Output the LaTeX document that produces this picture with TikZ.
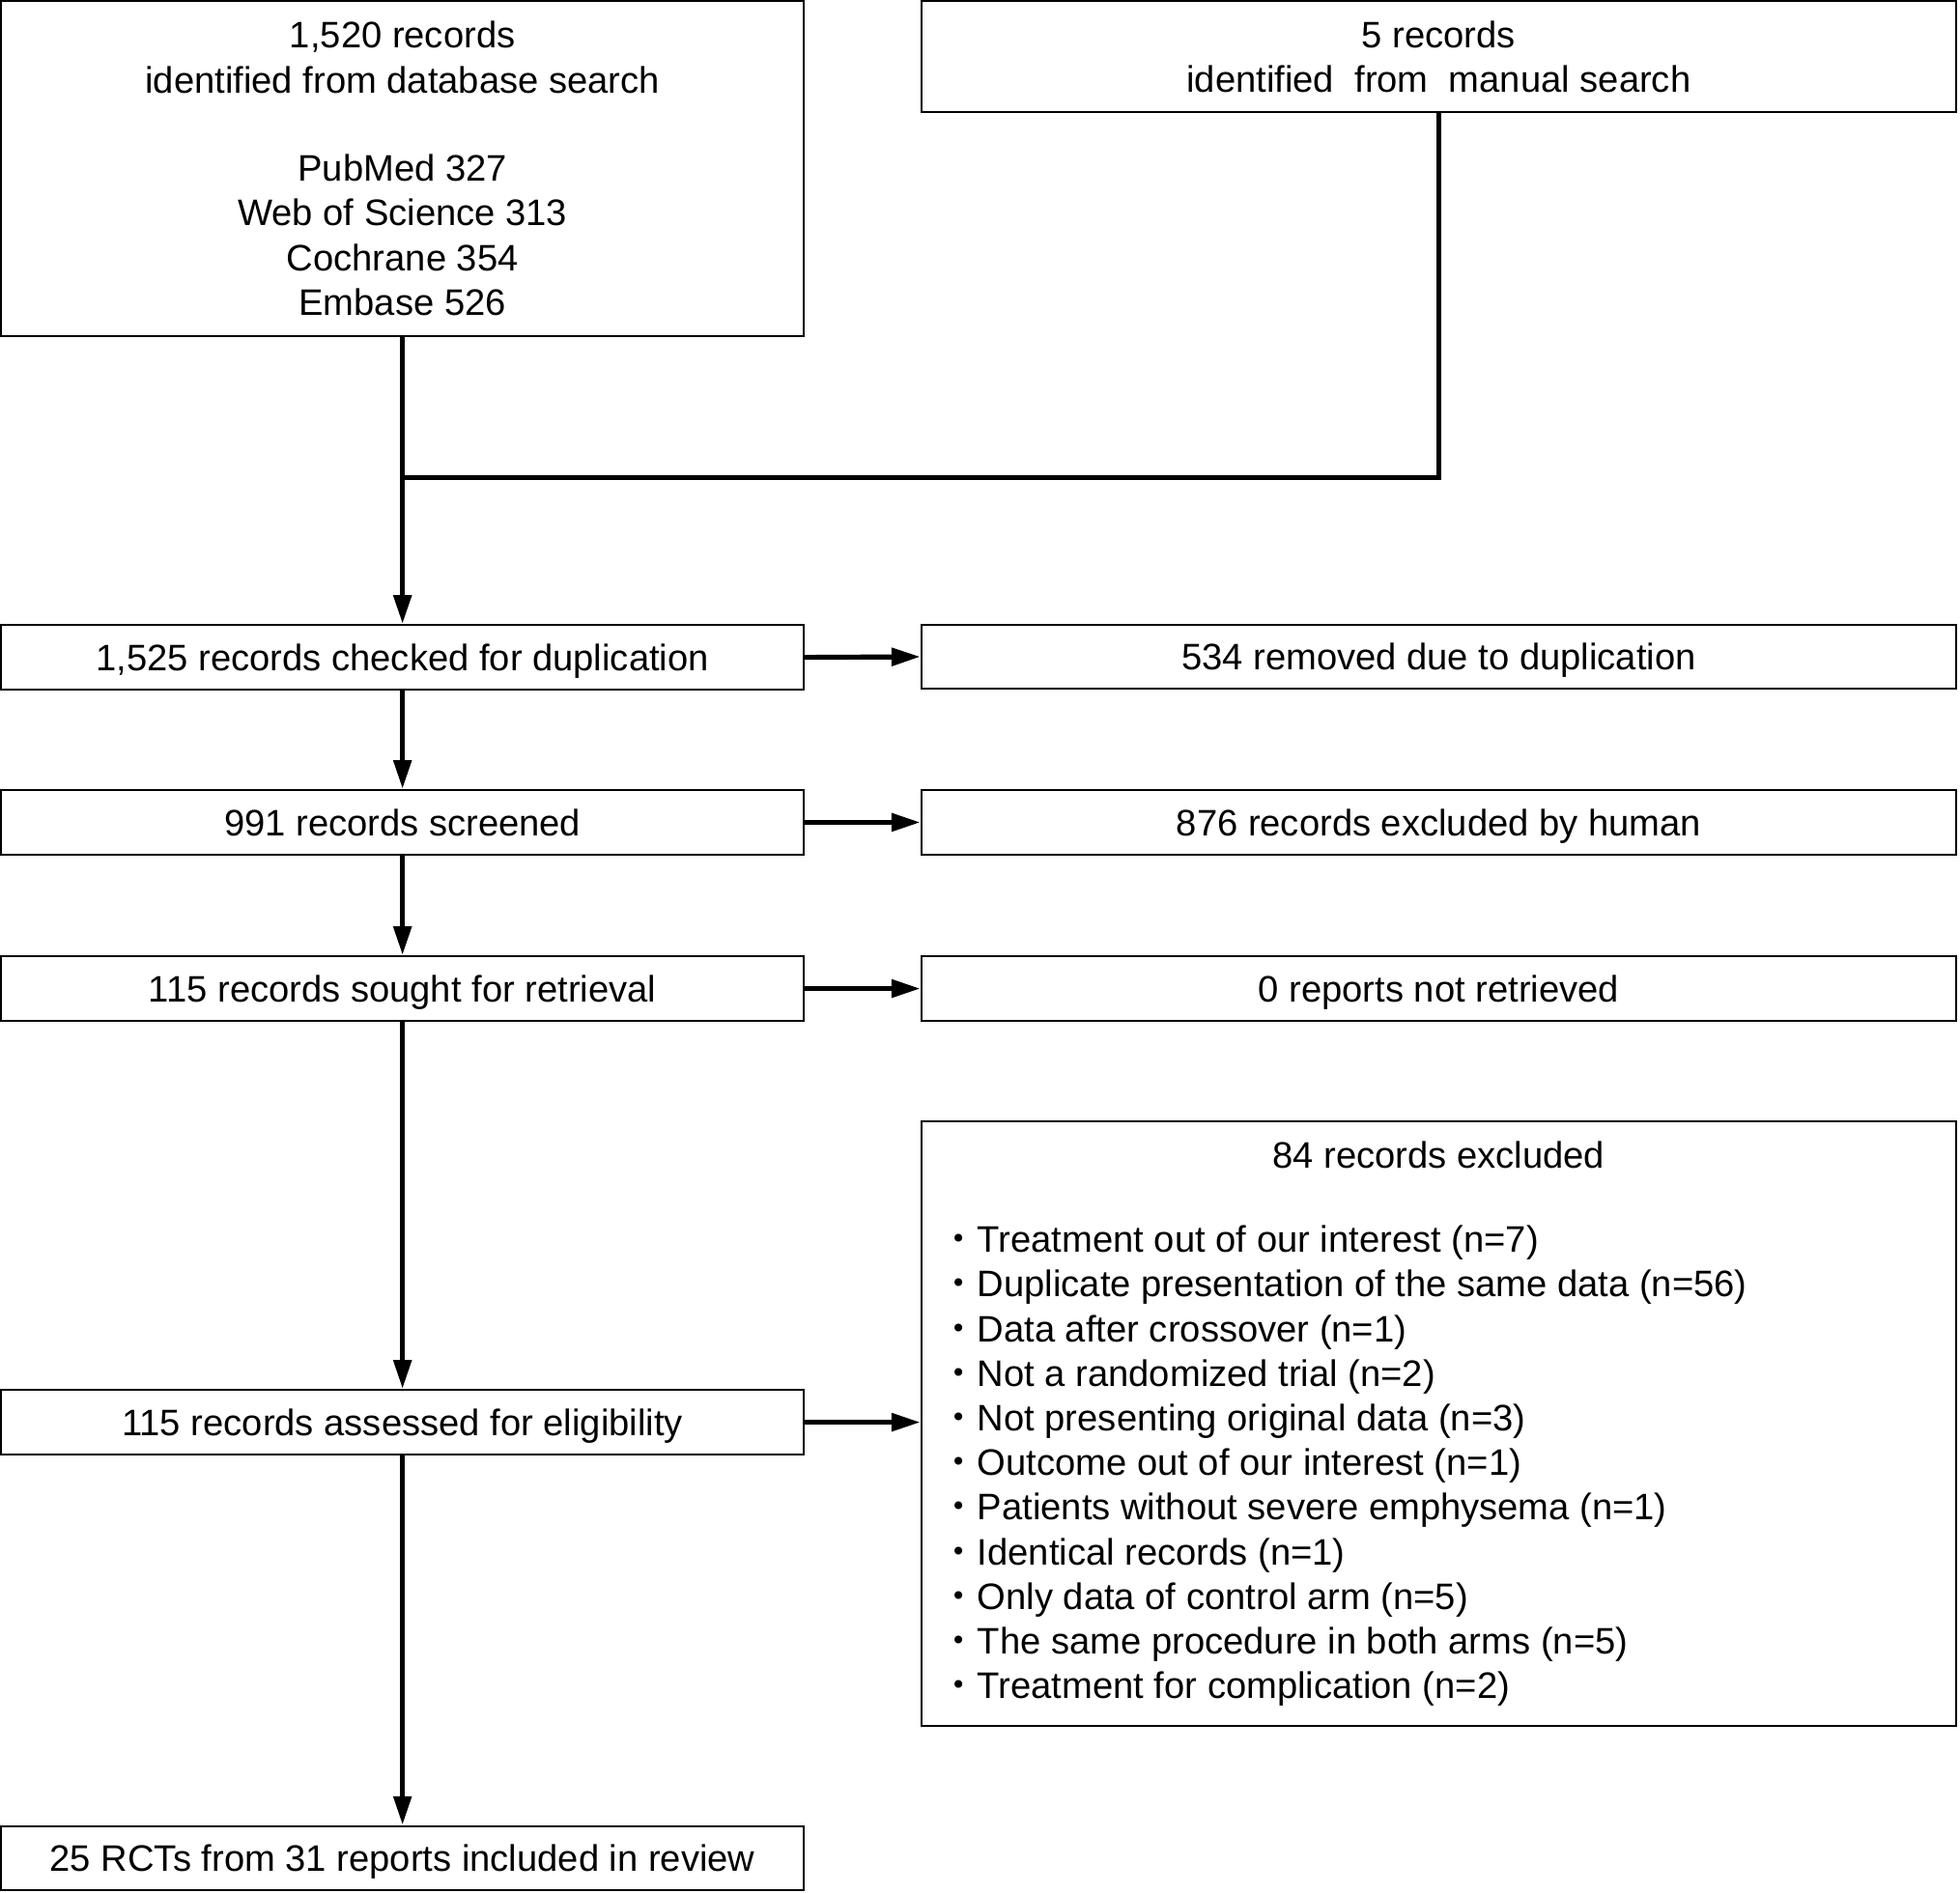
\documentclass[tikz,border=0pt]{standalone}
\usepackage{fontspec}
\setmainfont{Liberation Sans}
\newfontfamily\cjkfont{Noto Sans CJK JP}
\usetikzlibrary{arrows.meta}
\begin{document}
\begin{tikzpicture}[x=0.5pt,y=-0.5pt,
  box/.style={draw, line width=0.8pt, inner sep=0pt, align=center,
    font=\fontsize{14.75}{18}\selectfont},
  one/.style={text height=10.6pt, text depth=0pt},
  lbox/.style={box, minimum width=321pt},
  rbox/.style={box, minimum width=414pt},
  txt/.style={inner sep=0pt, font=\fontsize{14.75}{17.85}\selectfont},
  conn/.style={line width=2pt},
  arr/.style={conn, -{Triangle[length=11.5pt,width=7pt]}}]
\useasboundingbox (0,0) rectangle (1568,1514);
% left column
\node[lbox, minimum height=134pt] (db) at (322,135)
  {1,520 records\\identified from database search\\[17pt]PubMed 327\\Web of Science 313\\Cochrane 354\\Embase 526};
\node[lbox, one, minimum height=26pt] (dup) at (322,526) {1,525 records checked for duplication};
\node[lbox, one, minimum height=26pt] (scr) at (322,658) {991 records screened};
\node[lbox, one, minimum height=26pt] (sou) at (322,791) {115 records sought for retrieval};
\node[lbox, one, minimum height=26pt] (ass) at (322,1138) {115 records assessed for eligibility};
\node[lbox, one, minimum height=25.5pt] (inc) at (322,1486.5) {25 RCTs from 31 reports included in review};
% right column
\node[rbox, minimum height=44.5pt] (man) at (1151,45.5) {5 records\\identified\ \ from\ \ manual search};
\node[rbox, one, minimum height=25.5pt] (rem) at (1151,525.5) {534 removed due to duplication};
\node[rbox, one, minimum height=26pt] (exh) at (1151,658) {876 records excluded by human};
\node[rbox, one, minimum height=26pt] (nrt) at (1151,791) {0 reports not retrieved};
\node[rbox, minimum height=242pt] (exc) at (1151,1139) {};
\node[txt] (exct) at (1151,924) {84 records excluded};
\node[txt, anchor=west, align=left] (excl) at (752,1173) {%
{\cjkfont ・}Treatment out of our interest (n=7)\\
{\cjkfont ・}Duplicate presentation of the same data (n=56)\\
{\cjkfont ・}Data after crossover (n=1)\\
{\cjkfont ・}Not a randomized trial (n=2)\\
{\cjkfont ・}Not presenting original data (n=3)\\
{\cjkfont ・}Outcome out of our interest (n=1)\\
{\cjkfont ・}Patients without severe emphysema (n=1)\\
{\cjkfont ・}Identical records (n=1)\\
{\cjkfont ・}Only data of control arm (n=5)\\
{\cjkfont ・}The same procedure in both arms (n=5)\\
{\cjkfont ・}Treatment for complication (n=2)};
% connectors
\coordinate (jn) at (322,382);
\draw[conn] (man.south) |- (jn);
\draw[arr] (db.south) -- (dup.north);
\draw[arr] (dup.east) -- (rem.west);
\draw[arr] (dup.south) -- (scr.north);
\draw[arr] (scr.east) -- (exh.west);
\draw[arr] (scr.south) -- (sou.north);
\draw[arr] (sou.east) -- (nrt.west);
\draw[arr] (sou.south) -- (ass.north);
\draw[arr] (ass.east) -- (ass.east -| exc.west);
\draw[arr] (ass.south) -- (inc.north);
\end{tikzpicture}
\end{document}
